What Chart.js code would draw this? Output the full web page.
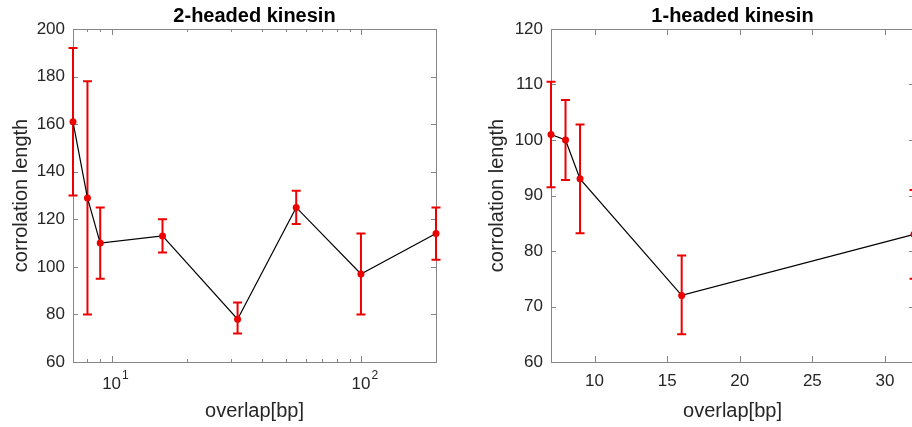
<!DOCTYPE html>
<html>
<head>
<meta charset="utf-8">
<script src="https://cdn.jsdelivr.net/npm/chart.js@4.4.1/dist/chart.umd.min.js"></script>
<style>
  html, body { margin: 0; padding: 0; background: #fff; overflow: hidden; width: 912px; height: 427px; }
  canvas { position: absolute; top: 0; }
  #left { left: 0; }
  #right { left: 460px; }
</style>
</head>
<body>
<canvas id="left" width="460" height="427"></canvas>
<canvas id="right" width="480" height="427"></canvas>
<script>
// 2-headed kinesin
const twoHeadOverlap = [7, 8, 9, 16, 32, 55, 100, 200]
const twoHeadLength = [161, 129, 110, 113, 78, 125, 97, 114]
const twoHeadLow = [130, 80, 95, 106, 72, 118, 80, 103]
const twoHeadHigh = [192, 178, 125, 120, 85, 132, 114, 125]
const twoHeadXTicks = [8, 9, 10, 20, 30, 40, 50, 60, 70, 80, 90, 100]
const twoHeadXMajor = [10, 100]

// 1-headed kinesin
const oneHeadOverlap = [7, 8, 9, 16, 32]
const oneHeadLength = [101, 100, 93, 72, 83]
const oneHeadLow = [91.5, 92.8, 83.2, 65, 75]
const oneHeadHigh = [110.5, 107.2, 102.8, 79.2, 91]
const oneHeadXTicks = [10, 15, 20, 25, 30]

const RED = "#ec0000"
const TEXT = "#262626"
const FONT = "'Liberation Sans', Arial, Helvetica, sans-serif"

// 目盛りは内向き、枠は四辺 (MATLAB風)
const boxAxes = {
  id: "boxAxes",
  beforeDatasetsDraw(chart, args, opts) {
    const { ctx, chartArea: a, scales: { x, y } } = chart
    ctx.save()
    ctx.strokeStyle = "#858585"
    ctx.lineWidth = 1
    ctx.strokeRect(Math.round(a.left) + 0.5, Math.round(a.top) + 0.5,
      Math.round(a.right - a.left), Math.round(a.bottom - a.top))
    ctx.beginPath()
    x.ticks.forEach(t => {
      const px = Math.round(x.getPixelForValue(t.value)) + 0.5
      const len = (opts.majorX || []).length && !opts.majorX.includes(t.value) ? 3 : 6
      ctx.moveTo(px, a.bottom); ctx.lineTo(px, a.bottom - len)
      ctx.moveTo(px, a.top); ctx.lineTo(px, a.top + len)
    })
    y.ticks.forEach(t => {
      const py = Math.round(y.getPixelForValue(t.value)) + 0.5
      ctx.moveTo(a.left, py); ctx.lineTo(a.left + 5, py)
      ctx.moveTo(a.right, py); ctx.lineTo(a.right - 5, py)
    })
    ctx.stroke()
    ctx.restore()
  },
  // 対数軸の指数 (10^1, 10^2)
  afterDraw(chart, args, opts) {
    if (!opts.majorX || !opts.majorX.length) return
    const { ctx, chartArea: a, scales: { x } } = chart
    ctx.save()
    ctx.font = `17px ${FONT}`
    const w = ctx.measureText("10").width
    ctx.font = `12px ${FONT}`
    ctx.fillStyle = TEXT
    ctx.textAlign = "left"
    ctx.textBaseline = "middle"
    opts.majorX.forEach(v => {
      const px = x.getPixelForValue(v)
      ctx.fillText(String(Math.round(Math.log10(v))), px + w / 2 + 1, a.bottom + 14)
    })
    ctx.restore()
  }
}

const errorBars = {
  id: "errorBars",
  beforeDatasetsDraw(chart, args, opts) {
    const { ctx, scales: { x, y } } = chart
    ctx.save()
    ctx.strokeStyle = RED
    ctx.lineWidth = 2
    opts.xs.forEach((v, i) => {
      const px = x.getPixelForValue(v)
      const top = y.getPixelForValue(opts.high[i])
      const bot = y.getPixelForValue(opts.low[i])
      ctx.beginPath()
      ctx.moveTo(px, top); ctx.lineTo(px, bot)
      ctx.moveTo(px - 4.5, top); ctx.lineTo(px + 4.5, top)
      ctx.moveTo(px - 4.5, bot); ctx.lineTo(px + 4.5, bot)
      ctx.stroke()
    })
    ctx.restore()
  }
}

function makeChart(canvas, cfg) {
  const points = cfg.xs.map((v, i) => ({ x: v, y: cfg.ys[i] }))
  return new Chart(canvas.getContext("2d"), {
    type: "line",
    data: {
      datasets: [{
        data: points,
        borderColor: "#000",
        borderWidth: 1.2,
        pointRadius: 3.5,
        pointBackgroundColor: RED,
        pointBorderWidth: 0,
        tension: 0,
        clip: false
      }]
    },
    options: {
      responsive: false,
      animation: false,
      layout: { padding: { left: 0, right: cfg.padRight, top: 0, bottom: 0 } },
      plugins: {
        legend: { display: false },
        tooltip: { enabled: false },
        title: {
          display: true,
          text: cfg.title,
          fullSize: false,
          color: "#000",
          font: { family: FONT, size: 20, weight: "bold", lineHeight: 1.2 },
          padding: { top: 4, bottom: 1 }
        },
        boxAxes: { majorX: cfg.majorX || [] },
        errorBars: { xs: cfg.xs, low: cfg.low, high: cfg.high }
      },
      scales: {
        x: {
          type: cfg.xType,
          min: cfg.xMin,
          max: cfg.xMax,
          grid: { display: false, drawTicks: false },
          border: { display: false },
          afterBuildTicks: s => { s.ticks = cfg.xTicks.map(v => ({ value: v })) },
          afterFit: s => { s.height = 65 },
          ticks: {
            autoSkip: false,
            maxRotation: 0,
            padding: cfg.xTickPad,
            color: TEXT,
            font: { family: FONT, size: 17 },
            callback: cfg.xLabel
          },
          title: {
            display: true,
            text: "overlap[bp]",
            color: TEXT,
            font: { family: FONT, size: 20, lineHeight: 1.2 },
            padding: { top: 0, bottom: 4 }
          }
        },
        y: {
          type: "linear",
          min: cfg.yMin,
          max: cfg.yMax,
          grid: { display: false, drawTicks: false },
          border: { display: false },
          afterFit: s => { s.width = cfg.yWidth },
          ticks: {
            stepSize: cfg.yStep,
            padding: 8,
            color: TEXT,
            font: { family: FONT, size: 17 }
          },
          title: {
            display: true,
            text: "corrolation length",
            color: TEXT,
            font: { family: FONT, size: 20, lineHeight: 1.2 },
            padding: { top: cfg.yTitlePad, bottom: 0 }
          }
        }
      }
    },
    plugins: [boxAxes, errorBars]
  })
}

makeChart(document.getElementById("left"), {
  title: "2-headed kinesin",
  xs: twoHeadOverlap, ys: twoHeadLength, low: twoHeadLow, high: twoHeadHigh,
  xType: "logarithmic", xMin: 7, xMax: 200,
  xTicks: twoHeadXTicks, majorX: twoHeadXMajor,
  xLabel: v => (v === 10 || v === 100) ? "10" : "",
  xTickPad: 12,
  yMin: 60, yMax: 200, yStep: 20,
  yWidth: 73, yTitlePad: 9, padRight: 24
})

makeChart(document.getElementById("right"), {
  title: "1-headed kinesin",
  xs: oneHeadOverlap, ys: oneHeadLength, low: oneHeadLow, high: oneHeadHigh,
  xType: "linear", xMin: 7, xMax: 32,
  xTicks: oneHeadXTicks,
  xLabel: v => String(v),
  xTickPad: 9,
  yMin: 60, yMax: 120, yStep: 10,
  yWidth: 91, yTitlePad: 25, padRight: 26
})
</script>
</body>
</html>
